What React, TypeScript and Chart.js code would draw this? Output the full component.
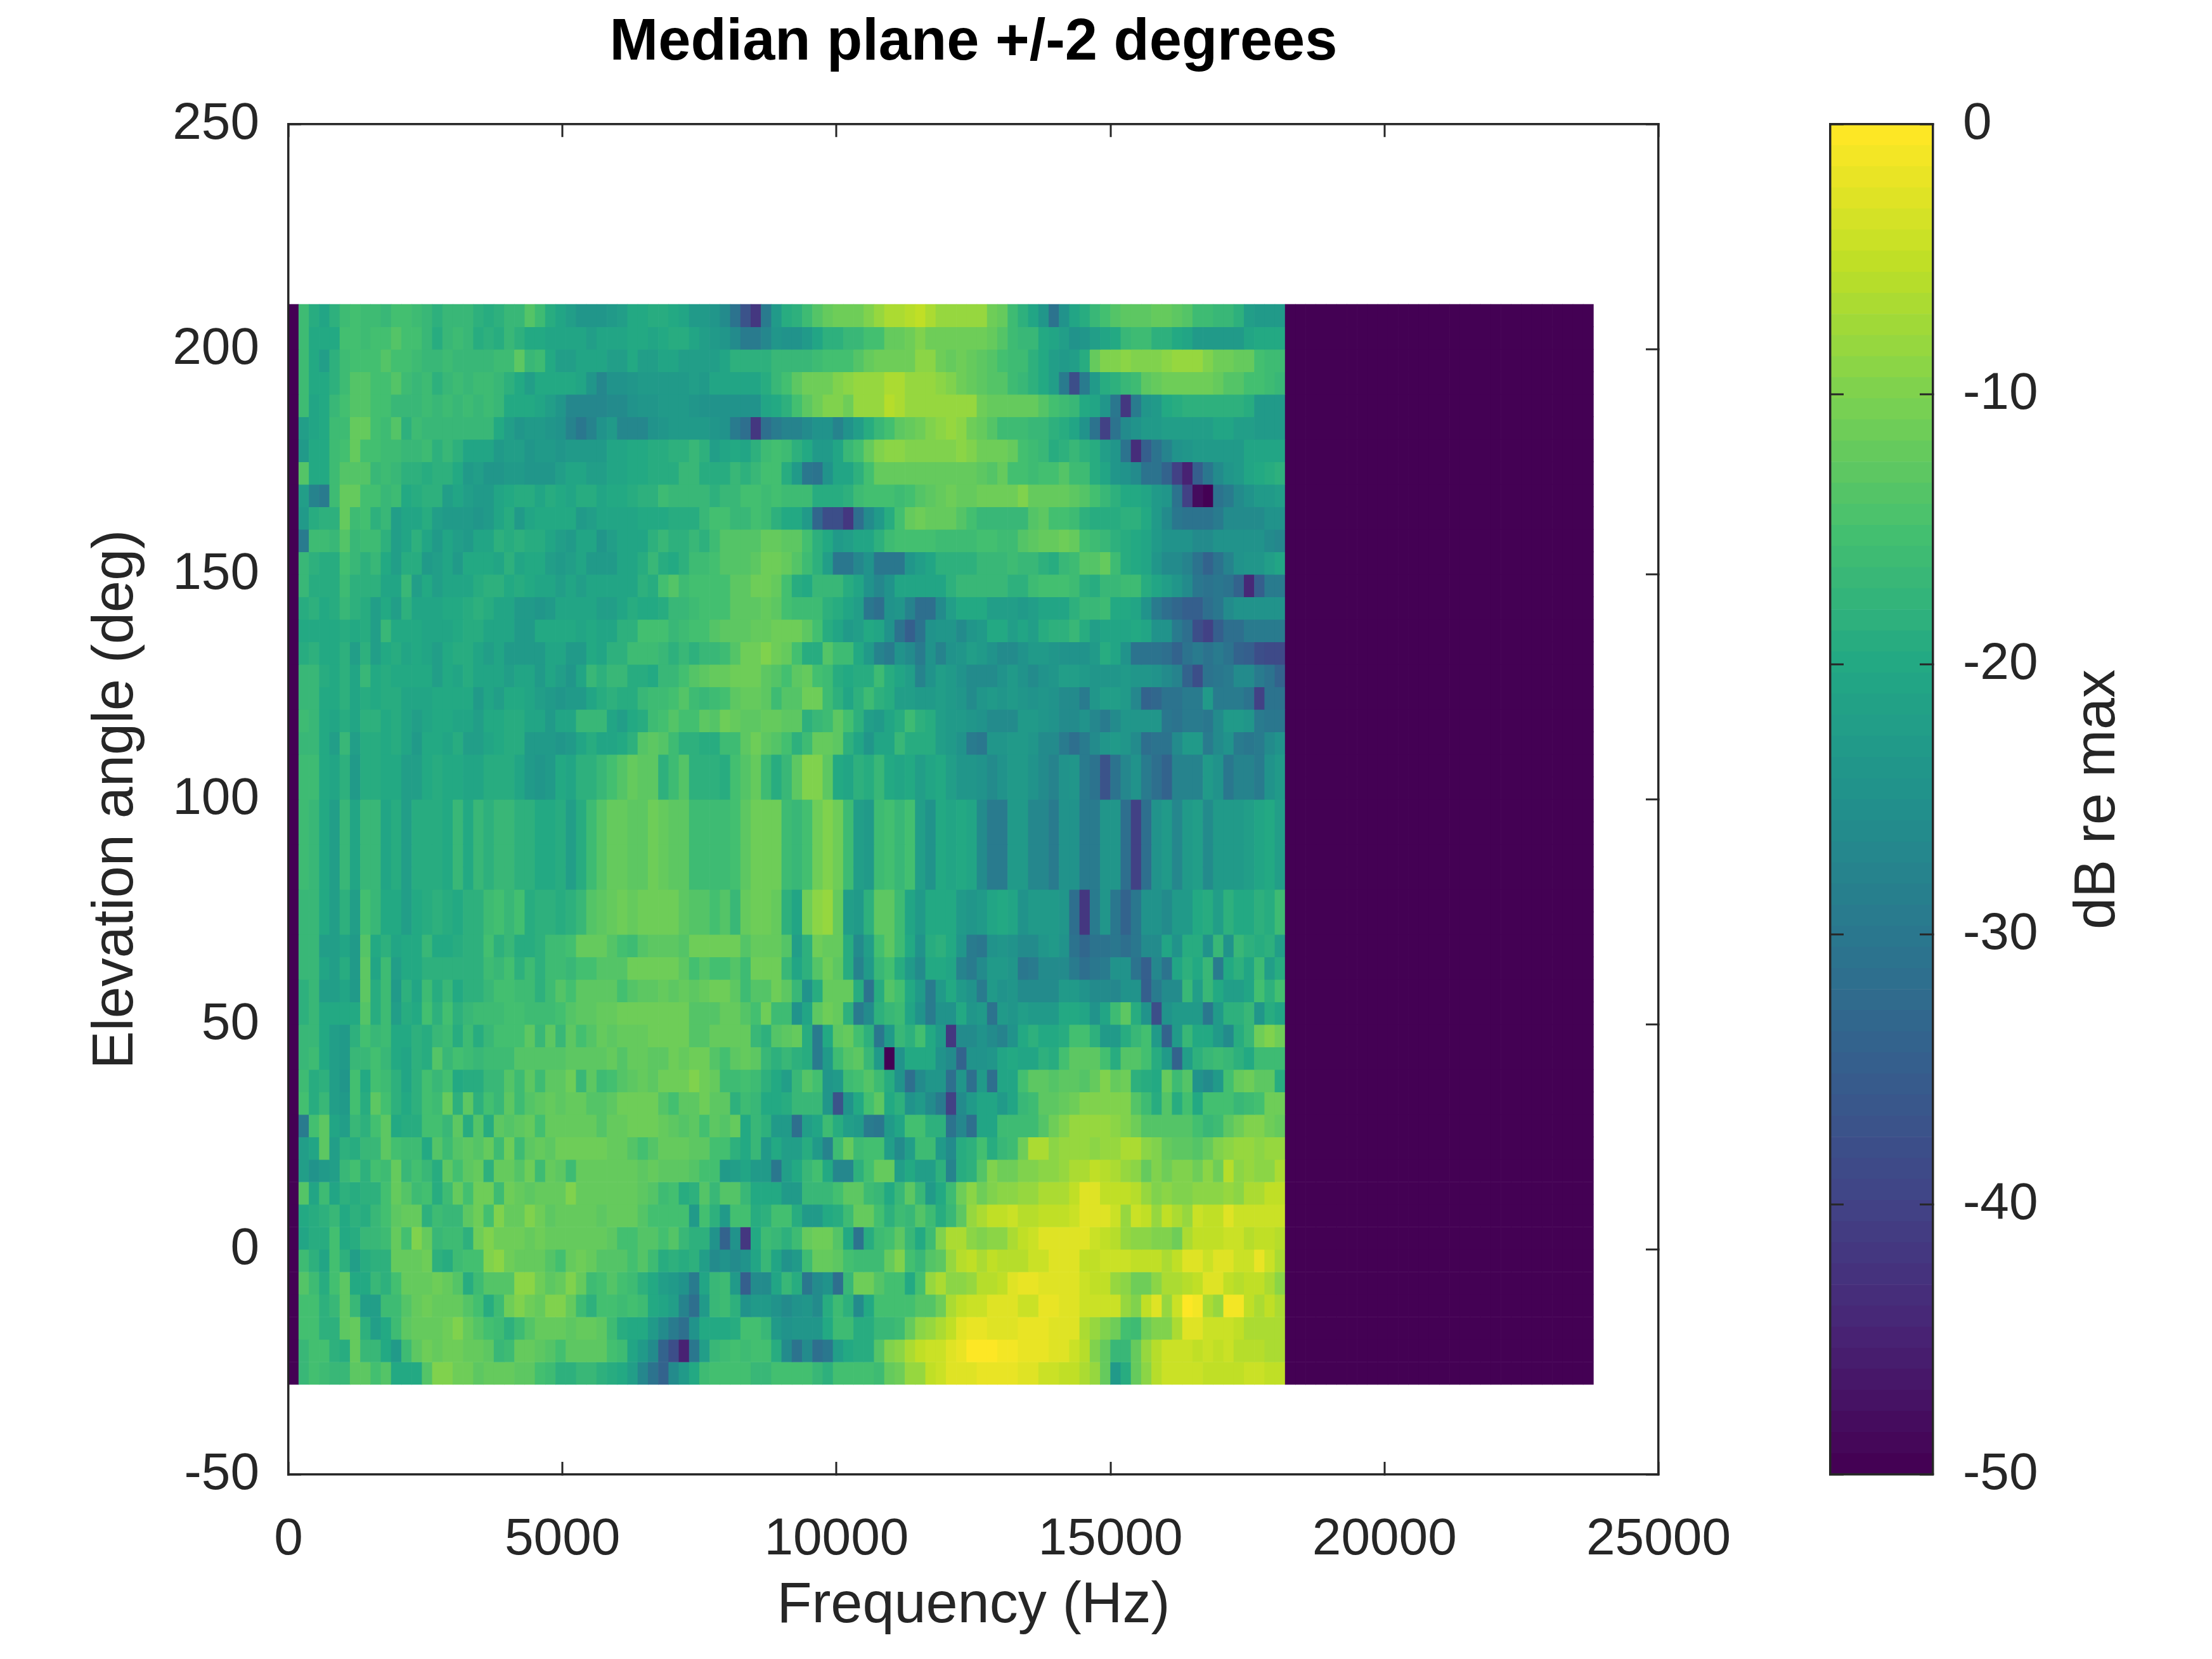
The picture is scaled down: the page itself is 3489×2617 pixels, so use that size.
import React, { useEffect, useRef } from "react";
import { Chart, registerables } from "chart.js";

Chart.register(...registerables);

// ---------------- text ----------------
const titleText = "Median plane +/-2 degrees";
const xAxisTitle = "Frequency (Hz)";
const yAxisTitle = "Elevation angle (deg)";
const colorbarTitle = "dB re max";

// ---------------- ticks ----------------
const xTicks = [0, 5000, 10000, 15000, 20000, 25000];
const yTicks = [-50, 0, 50, 100, 150, 200, 250];
const colorbarTicks = [-50, -40, -30, -20, -10, 0];

// ---------------- grid of the image ----------------
const binWidthHz = 187.5; // FFT bin spacing
const binCount = 127; // bins 0 .. 126 (0 .. 23812.5 Hz)
const firstMeasuredBin = 1; // bin 0 (DC) is at the floor
const floorDb = -50; // colour-axis minimum (dark region)
const ceilDb = 0;
const elevStepDeg = 5;
// lower edge of each image row, from top row to bottom row
const elevLowerEdges = [
  205, 200, 195, 190, 185, 180, 175, 170, 165, 160, 155, 150, 145, 140, 135, 130,
  125, 120, 115, 110, 105, 100, 95, 90, 85, 80, 75, 70, 65, 60, 55, 50,
  45, 40, 35, 30, 25, 20, 15, 10, 5, 0, -5, -10, -15, -20, -25, -30,
];

// ---------------- levels (dB re max), bins 1..96 (187.5 .. 18187.5 Hz) ----------------
const row205 = [-16,-19,-21,-18,-16,-15,-16,-16,-17,-15,-15,-16,-17,-18,-17,-17,-17,-18,-19,-18,-17,-17,-14,-16,-19,-21,-22,-24,-24,-24,-23,-22,
  -20,-20,-19,-19,-20,-21,-23,-23,-24,-26,-31,-37,-42,-29,-23,-19,-18,-16,-14,-12,-11,-11,-11,-10,-8,-7,-7,-6,-5,-7,-8,-8,
  -8,-8,-8,-11,-12,-16,-18,-21,-24,-31,-25,-21,-19,-17,-15,-14,-13,-13,-13,-12,-12,-13,-14,-16,-16,-17,-17,-18,-22,-23,-23,-23];
const row200 = [-16,-20,-20,-20,-15,-15,-16,-15,-15,-14,-15,-15,-17,-19,-17,-16,-17,-19,-18,-19,-17,-18,-20,-20,-21,-21,-21,-21,-22,-21,-21,-21,
  -20,-20,-21,-20,-19,-19,-21,-22,-23,-24,-26,-29,-29,-27,-24,-25,-25,-23,-21,-18,-18,-17,-17,-15,-15,-12,-12,-11,-10,-11,-11,-11,
  -11,-11,-11,-12,-14,-16,-17,-17,-20,-21,-22,-25,-24,-22,-21,-20,-17,-16,-16,-18,-18,-20,-21,-23,-23,-23,-23,-23,-21,-20,-20,-20];
const row195 = [-16,-20,-22,-18,-16,-15,-15,-15,-14,-15,-15,-16,-17,-17,-16,-17,-17,-17,-17,-16,-16,-13,-17,-16,-20,-22,-22,-21,-21,-21,-22,-22,
  -20,-22,-22,-21,-21,-22,-22,-22,-22,-21,-18,-18,-18,-18,-17,-17,-17,-17,-16,-15,-15,-15,-14,-12,-11,-11,-11,-11,-9,-9,-11,-12,
  -11,-12,-13,-14,-15,-16,-16,-18,-20,-22,-23,-22,-19,-12,-10,-10,-9,-10,-10,-10,-9,-8,-8,-8,-10,-11,-11,-12,-12,-15,-16,-16];
const row190 = [-16,-20,-20,-18,-16,-14,-14,-15,-15,-14,-16,-17,-16,-18,-17,-16,-17,-16,-16,-17,-18,-20,-22,-20,-20,-20,-20,-21,-24,-27,-25,-25,
  -24,-23,-23,-23,-23,-23,-22,-23,-21,-21,-21,-21,-21,-19,-17,-15,-13,-11,-11,-11,-10,-9,-8,-8,-8,-7,-7,-8,-8,-8,-9,-10,
  -11,-12,-13,-14,-14,-16,-17,-18,-20,-22,-29,-38,-29,-23,-19,-18,-17,-16,-13,-12,-11,-11,-11,-11,-11,-12,-14,-14,-15,-15,-16,-17];
const row185 = [-16,-21,-20,-17,-15,-14,-14,-15,-15,-17,-17,-17,-16,-17,-16,-17,-16,-17,-16,-17,-20,-20,-20,-21,-22,-24,-27,-27,-27,-27,-26,-26,
  -25,-24,-24,-23,-23,-23,-24,-25,-25,-25,-25,-25,-25,-21,-20,-18,-15,-13,-11,-10,-10,-11,-8,-8,-8,-6,-7,-8,-8,-8,-8,-8,
  -8,-8,-11,-12,-12,-12,-12,-12,-14,-15,-16,-17,-20,-21,-24,-30,-42,-29,-24,-23,-20,-19,-18,-18,-18,-18,-18,-18,-19,-23,-23,-23];
const row180 = [-22,-21,-20,-16,-16,-12,-12,-15,-16,-14,-18,-16,-17,-17,-17,-17,-17,-17,-17,-20,-22,-24,-23,-23,-24,-25,-28,-30,-28,-25,-23,-27,
  -27,-27,-25,-24,-23,-23,-23,-23,-24,-25,-29,-32,-42,-32,-29,-28,-28,-26,-25,-25,-28,-25,-22,-19,-17,-15,-13,-12,-11,-10,-9,-8,
  -9,-11,-12,-14,-16,-16,-16,-17,-17,-18,-19,-21,-25,-31,-40,-31,-26,-25,-23,-23,-22,-22,-22,-22,-22,-21,-21,-22,-22,-23,-23,-23];
const row175 = [-23,-20,-20,-16,-15,-12,-15,-15,-16,-16,-17,-17,-16,-18,-17,-18,-21,-21,-21,-23,-22,-22,-24,-23,-23,-24,-23,-23,-23,-23,-21,-21,
  -20,-20,-19,-19,-18,-18,-17,-18,-22,-21,-20,-21,-18,-16,-15,-16,-18,-20,-23,-23,-21,-17,-15,-12,-10,-9,-9,-10,-10,-10,-10,-10,
  -9,-10,-11,-11,-11,-12,-15,-16,-17,-19,-18,-17,-18,-19,-22,-24,-31,-43,-35,-31,-28,-25,-24,-23,-23,-23,-23,-23,-21,-21,-21,-21];
const row170 = [-14,-20,-20,-16,-14,-14,-14,-17,-16,-17,-18,-18,-19,-18,-18,-20,-23,-22,-24,-24,-23,-23,-24,-24,-24,-22,-21,-21,-22,-22,-21,-21,
  -20,-20,-19,-19,-19,-17,-17,-19,-19,-19,-17,-18,-17,-15,-15,-19,-23,-30,-31,-25,-21,-21,-18,-15,-12,-12,-12,-12,-12,-12,-12,-12,
  -12,-12,-13,-14,-12,-15,-15,-16,-15,-15,-14,-16,-16,-19,-21,-24,-25,-26,-31,-31,-34,-40,-45,-35,-30,-26,-24,-23,-21,-20,-19,-18];
const row165 = [-22,-28,-29,-16,-12,-12,-15,-15,-17,-16,-20,-19,-18,-18,-22,-21,-22,-23,-23,-21,-20,-19,-19,-21,-19,-20,-21,-19,-19,-21,-20,-20,
  -19,-18,-18,-16,-17,-17,-17,-17,-18,-17,-17,-15,-15,-16,-15,-16,-16,-16,-19,-19,-19,-18,-16,-15,-15,-15,-16,-15,-14,-13,-12,-11,
  -12,-12,-11,-11,-11,-11,-10,-12,-12,-12,-12,-13,-14,-15,-17,-18,-20,-20,-21,-23,-24,-31,-40,-48,-50,-31,-29,-26,-25,-23,-23,-22];
const row160 = [-23,-19,-18,-18,-12,-16,-15,-18,-17,-22,-21,-21,-19,-22,-23,-23,-23,-24,-23,-21,-19,-23,-21,-20,-20,-20,-20,-23,-22,-21,-21,-21,
  -21,-20,-20,-20,-19,-19,-19,-17,-15,-15,-17,-17,-15,-16,-18,-20,-20,-23,-33,-38,-38,-42,-32,-26,-23,-19,-15,-12,-11,-12,-12,-12,
  -14,-15,-17,-17,-17,-17,-17,-14,-13,-15,-15,-16,-18,-19,-19,-19,-18,-18,-20,-23,-26,-30,-31,-31,-31,-29,-26,-26,-26,-26,-25,-25];
const row155 = [-29,-16,-16,-17,-14,-17,-16,-16,-18,-22,-21,-18,-21,-23,-21,-22,-23,-21,-21,-18,-19,-18,-19,-19,-21,-22,-23,-21,-21,-24,-22,-21,
  -21,-21,-18,-17,-18,-18,-17,-18,-16,-14,-14,-14,-14,-12,-12,-13,-13,-15,-18,-20,-23,-22,-21,-21,-18,-16,-15,-15,-15,-15,-16,-16,
  -16,-16,-15,-15,-16,-16,-14,-13,-12,-12,-11,-12,-15,-16,-17,-18,-19,-20,-21,-23,-25,-25,-25,-26,-26,-25,-25,-25,-25,-25,-26,-27];
const row150 = [-17,-18,-19,-19,-15,-17,-18,-17,-20,-22,-19,-19,-23,-22,-21,-23,-20,-20,-20,-21,-18,-21,-20,-20,-22,-23,-22,-21,-23,-23,-23,-21,
  -21,-19,-17,-19,-20,-18,-16,-16,-15,-14,-14,-14,-13,-11,-11,-12,-14,-16,-18,-22,-30,-30,-27,-25,-30,-30,-30,-24,-22,-21,-18,-18,
  -18,-18,-17,-17,-17,-16,-17,-17,-18,-19,-17,-16,-14,-14,-12,-16,-19,-20,-21,-24,-26,-26,-28,-31,-34,-31,-28,-25,-24,-24,-22,-21];
const row145 = [-17,-19,-19,-19,-16,-18,-18,-18,-21,-21,-17,-22,-20,-22,-21,-21,-21,-19,-18,-18,-20,-19,-20,-21,-21,-22,-21,-22,-21,-21,-21,-21,
  -21,-18,-19,-15,-14,-16,-15,-15,-15,-15,-13,-13,-11,-11,-12,-15,-19,-20,-17,-17,-17,-19,-21,-25,-27,-25,-21,-21,-21,-21,-21,-18,
  -17,-17,-17,-17,-17,-18,-18,-16,-15,-15,-15,-16,-18,-19,-17,-17,-16,-16,-19,-21,-22,-24,-26,-30,-31,-30,-31,-34,-44,-35,-29,-29];
const row140 = [-19,-18,-20,-19,-17,-18,-19,-22,-20,-22,-18,-21,-21,-21,-20,-20,-19,-18,-19,-21,-21,-23,-23,-24,-23,-21,-21,-21,-21,-22,-22,-21,
  -19,-20,-20,-19,-17,-17,-16,-15,-15,-15,-13,-13,-13,-12,-13,-15,-16,-16,-16,-18,-19,-21,-22,-30,-32,-25,-24,-28,-32,-32,-26,-22,
  -20,-20,-20,-22,-22,-22,-23,-22,-21,-21,-21,-18,-17,-17,-16,-20,-20,-21,-25,-29,-32,-33,-35,-35,-32,-30,-26,-25,-25,-25,-25,-25];
const row135 = [-20,-20,-20,-20,-19,-20,-19,-22,-17,-20,-20,-20,-21,-21,-21,-20,-19,-19,-21,-21,-21,-23,-23,-20,-20,-20,-20,-21,-20,-21,-21,-18,
  -18,-15,-15,-15,-17,-16,-15,-15,-14,-13,-13,-13,-12,-12,-11,-11,-11,-13,-15,-19,-21,-23,-22,-20,-21,-25,-31,-35,-31,-25,-24,-24,
  -26,-24,-23,-20,-20,-22,-21,-22,-19,-18,-18,-17,-19,-22,-21,-21,-21,-20,-21,-25,-25,-29,-32,-38,-40,-35,-32,-32,-29,-29,-29,-29];
const row130 = [-19,-18,-20,-20,-18,-22,-18,-22,-20,-19,-21,-20,-21,-22,-20,-19,-19,-21,-22,-21,-23,-23,-23,-23,-21,-21,-23,-23,-20,-21,-18,-18,
  -16,-16,-16,-17,-18,-17,-18,-17,-17,-16,-14,-11,-11,-10,-11,-12,-15,-19,-19,-14,-16,-16,-20,-23,-28,-29,-25,-26,-29,-25,-28,-25,
  -24,-22,-23,-25,-26,-26,-25,-23,-23,-24,-25,-25,-25,-23,-19,-21,-25,-31,-31,-31,-32,-34,-31,-29,-31,-29,-31,-34,-35,-38,-39,-39];
const row125 = [-17,-17,-19,-20,-18,-21,-17,-20,-19,-20,-20,-20,-20,-22,-20,-21,-19,-21,-21,-21,-22,-21,-21,-23,-21,-22,-24,-21,-17,-18,-17,-17,
  -19,-19,-20,-17,-17,-15,-14,-13,-12,-12,-11,-11,-11,-13,-14,-15,-13,-12,-15,-16,-19,-20,-19,-19,-16,-19,-21,-22,-28,-25,-22,-23,
  -25,-26,-26,-26,-25,-23,-25,-26,-25,-24,-22,-22,-23,-24,-24,-24,-23,-24,-24,-25,-26,-28,-34,-38,-31,-30,-29,-26,-26,-29,-31,-34];
const row120 = [-17,-17,-20,-20,-18,-21,-19,-20,-19,-19,-21,-21,-21,-20,-20,-20,-20,-23,-21,-22,-20,-20,-21,-22,-23,-24,-23,-23,-21,-19,-18,-19,
  -19,-17,-16,-16,-15,-14,-16,-17,-16,-15,-13,-12,-12,-13,-16,-14,-14,-11,-11,-16,-18,-21,-18,-16,-18,-19,-22,-22,-23,-23,-22,-23,
  -24,-26,-24,-23,-24,-23,-24,-25,-24,-25,-26,-26,-29,-24,-22,-22,-23,-27,-34,-33,-31,-31,-29,-29,-23,-29,-29,-29,-31,-40,-31,-31];
const row115 = [-16,-17,-20,-21,-19,-21,-18,-18,-20,-19,-21,-22,-21,-20,-20,-21,-21,-22,-20,-20,-19,-19,-21,-21,-23,-21,-21,-17,-17,-17,-21,-22,
  -20,-19,-16,-15,-14,-15,-15,-13,-14,-11,-12,-13,-13,-12,-12,-13,-13,-18,-17,-16,-13,-15,-18,-22,-23,-21,-19,-16,-18,-19,-22,-23,
  -23,-24,-25,-26,-26,-26,-23,-23,-24,-25,-26,-26,-25,-27,-29,-26,-24,-24,-24,-24,-30,-31,-29,-29,-30,-26,-23,-23,-24,-29,-30,-30];
const row110 = [-17,-17,-20,-22,-17,-22,-19,-19,-20,-19,-21,-23,-20,-20,-21,-19,-22,-22,-21,-20,-19,-19,-23,-23,-23,-24,-23,-21,-19,-21,-21,-20,
  -18,-14,-13,-14,-16,-18,-18,-19,-19,-16,-16,-13,-11,-13,-14,-15,-18,-16,-12,-12,-13,-18,-21,-24,-21,-21,-17,-19,-19,-19,-22,-23,
  -25,-29,-30,-24,-24,-23,-23,-24,-26,-26,-29,-32,-29,-26,-24,-23,-24,-26,-32,-31,-31,-26,-23,-23,-29,-26,-25,-29,-30,-29,-26,-25];
const row105 = [-16,-16,-20,-21,-18,-23,-19,-19,-20,-20,-22,-22,-20,-19,-20,-20,-21,-21,-19,-19,-19,-21,-23,-24,-23,-20,-21,-18,-18,-17,-15,-14,
  -12,-13,-13,-18,-16,-14,-18,-18,-18,-19,-15,-14,-12,-16,-19,-17,-13,-10,-10,-13,-20,-21,-18,-19,-17,-20,-21,-20,-22,-21,-20,-22,
  -24,-24,-25,-26,-25,-23,-23,-25,-26,-28,-25,-24,-29,-31,-37,-31,-27,-25,-29,-32,-34,-28,-28,-28,-23,-25,-30,-28,-28,-29,-25,-23];
const row100 = [-16,-16,-20,-21,-18,-23,-19,-19,-20,-20,-22,-22,-20,-19,-20,-20,-21,-21,-19,-19,-19,-21,-23,-24,-23,-20,-21,-18,-18,-17,-15,-14,
  -12,-13,-13,-18,-16,-14,-18,-18,-18,-19,-15,-14,-12,-16,-19,-17,-13,-10,-10,-13,-20,-21,-18,-19,-17,-20,-21,-20,-22,-21,-20,-22,
  -24,-24,-25,-26,-25,-23,-23,-25,-26,-28,-25,-24,-29,-31,-37,-31,-27,-25,-29,-32,-34,-28,-28,-28,-23,-25,-30,-28,-28,-29,-25,-23];
const row95 = [-16,-17,-20,-22,-17,-21,-17,-17,-21,-19,-22,-19,-19,-19,-20,-17,-20,-17,-18,-17,-17,-18,-18,-20,-20,-19,-22,-19,-16,-14,-12,-12,
  -13,-13,-11,-12,-13,-13,-16,-16,-16,-16,-15,-13,-11,-11,-11,-16,-17,-15,-11,-10,-11,-16,-22,-23,-16,-15,-17,-15,-22,-25,-20,-21,
  -20,-21,-26,-29,-29,-23,-23,-27,-27,-29,-25,-25,-29,-29,-24,-24,-32,-40,-32,-25,-23,-27,-23,-22,-26,-23,-23,-23,-22,-21,-20,-22];
const row90 = [-16,-17,-20,-22,-17,-21,-17,-17,-21,-19,-22,-19,-19,-19,-20,-17,-20,-17,-18,-17,-17,-18,-18,-20,-20,-19,-22,-19,-16,-14,-12,-12,
  -13,-13,-11,-12,-13,-13,-16,-16,-16,-16,-15,-13,-11,-11,-11,-16,-17,-15,-11,-10,-11,-16,-22,-23,-16,-15,-17,-15,-22,-25,-20,-21,
  -20,-21,-26,-29,-29,-23,-23,-27,-27,-29,-25,-25,-29,-29,-24,-24,-32,-40,-32,-25,-23,-27,-23,-22,-26,-23,-23,-23,-22,-21,-20,-22];
const row85 = [-16,-17,-20,-22,-17,-21,-17,-17,-21,-19,-22,-19,-19,-19,-20,-17,-20,-17,-18,-17,-17,-18,-18,-20,-20,-19,-22,-19,-16,-14,-12,-12,
  -13,-13,-11,-12,-13,-13,-16,-16,-16,-16,-15,-13,-11,-11,-11,-16,-17,-15,-11,-10,-11,-16,-22,-23,-16,-15,-17,-15,-22,-25,-20,-21,
  -20,-21,-26,-29,-29,-23,-23,-27,-27,-29,-25,-25,-29,-29,-24,-24,-32,-40,-32,-25,-23,-27,-23,-22,-26,-23,-23,-23,-22,-21,-20,-22];
const row80 = [-16,-17,-20,-22,-17,-21,-17,-17,-21,-19,-22,-19,-19,-19,-20,-17,-20,-17,-18,-17,-17,-18,-18,-20,-20,-19,-22,-19,-16,-14,-12,-12,
  -13,-13,-11,-12,-13,-13,-16,-16,-16,-16,-15,-13,-11,-11,-11,-16,-17,-15,-11,-10,-11,-16,-22,-23,-16,-15,-17,-15,-22,-25,-20,-21,
  -20,-21,-26,-29,-29,-23,-23,-27,-27,-29,-25,-25,-29,-29,-24,-24,-32,-40,-32,-25,-23,-27,-23,-22,-26,-23,-23,-23,-22,-21,-20,-22];
const row75 = [-17,-17,-20,-22,-18,-22,-15,-17,-20,-20,-22,-20,-19,-18,-19,-20,-18,-18,-16,-15,-17,-15,-19,-18,-18,-19,-18,-17,-14,-13,-12,-11,
  -12,-11,-11,-11,-11,-13,-14,-14,-15,-14,-17,-12,-11,-11,-12,-18,-21,-11,-9,-8,-12,-22,-23,-18,-13,-13,-16,-21,-23,-20,-20,-20,
  -23,-24,-23,-21,-20,-21,-25,-23,-23,-23,-24,-32,-42,-29,-24,-30,-34,-30,-25,-25,-26,-23,-23,-20,-19,-22,-18,-20,-20,-18,-19,-16];
const row70 = [-17,-17,-20,-22,-18,-22,-15,-17,-20,-20,-22,-20,-19,-18,-19,-20,-18,-18,-16,-15,-17,-15,-19,-18,-18,-19,-18,-17,-14,-13,-12,-11,
  -12,-11,-11,-11,-11,-13,-14,-14,-15,-14,-17,-12,-11,-11,-12,-18,-21,-11,-9,-8,-12,-22,-23,-18,-13,-13,-16,-21,-23,-20,-20,-20,
  -23,-24,-23,-21,-20,-21,-25,-23,-23,-23,-24,-32,-42,-29,-24,-30,-34,-30,-25,-25,-26,-23,-23,-20,-19,-22,-18,-20,-20,-18,-19,-16];
const row65 = [-17,-17,-22,-22,-21,-23,-14,-20,-18,-21,-20,-20,-17,-20,-20,-19,-18,-18,-15,-18,-17,-19,-19,-18,-16,-16,-15,-12,-12,-12,-14,-15,
  -16,-14,-13,-13,-13,-14,-11,-11,-11,-11,-11,-14,-12,-12,-12,-14,-22,-18,-11,-12,-12,-19,-26,-22,-15,-13,-16,-20,-25,-19,-18,-20,
  -24,-29,-30,-25,-24,-25,-26,-26,-24,-23,-25,-31,-33,-31,-31,-30,-32,-30,-26,-26,-21,-25,-19,-19,-25,-17,-25,-17,-18,-19,-18,-22];
const row60 = [-17,-17,-21,-22,-19,-23,-13,-21,-16,-22,-20,-20,-18,-18,-18,-18,-18,-18,-16,-17,-15,-18,-16,-18,-16,-16,-17,-15,-15,-14,-14,-14,
  -11,-11,-11,-11,-11,-13,-15,-14,-15,-15,-14,-16,-11,-11,-11,-17,-21,-18,-14,-11,-13,-19,-28,-23,-17,-15,-19,-23,-26,-20,-20,-21,
  -28,-29,-26,-23,-23,-24,-30,-29,-26,-26,-26,-29,-32,-30,-29,-25,-25,-31,-35,-27,-31,-21,-18,-20,-17,-29,-20,-18,-21,-16,-22,-19];
const row55 = [-18,-17,-22,-22,-21,-23,-13,-19,-16,-23,-18,-21,-16,-19,-17,-20,-18,-18,-17,-15,-15,-16,-16,-18,-16,-14,-15,-13,-13,-13,-13,-15,
  -14,-13,-13,-12,-13,-12,-13,-12,-11,-11,-13,-16,-14,-14,-11,-13,-17,-25,-19,-12,-12,-12,-19,-31,-19,-14,-15,-20,-23,-29,-23,-20,
  -23,-25,-29,-23,-25,-24,-26,-26,-26,-26,-23,-23,-25,-26,-26,-27,-25,-25,-35,-29,-26,-26,-17,-22,-17,-20,-22,-22,-21,-15,-18,-15];
const row50 = [-18,-17,-20,-20,-20,-20,-14,-19,-16,-22,-19,-20,-15,-18,-15,-18,-17,-16,-16,-16,-15,-15,-16,-16,-16,-15,-14,-13,-13,-12,-12,-11,
  -11,-11,-11,-11,-11,-11,-14,-14,-14,-12,-12,-14,-15,-11,-16,-16,-25,-21,-13,-11,-12,-18,-29,-26,-18,-17,-16,-21,-25,-29,-25,-25,
  -20,-24,-23,-31,-23,-24,-22,-23,-23,-23,-20,-20,-21,-25,-21,-16,-13,-19,-25,-38,-25,-23,-23,-23,-30,-23,-18,-18,-17,-24,-19,-21];
const row45 = [-17,-17,-20,-22,-23,-18,-15,-17,-16,-20,-20,-18,-19,-17,-16,-19,-16,-19,-17,-15,-15,-15,-13,-17,-13,-17,-13,-15,-14,-12,-13,-12,
  -12,-12,-11,-11,-11,-11,-14,-14,-12,-12,-12,-12,-17,-18,-14,-13,-12,-19,-29,-20,-13,-12,-15,-18,-30,-23,-17,-18,-15,-20,-23,-42,
  -26,-26,-25,-26,-28,-25,-20,-18,-20,-20,-19,-15,-15,-18,-23,-23,-19,-17,-15,-23,-34,-23,-17,-20,-20,-23,-26,-19,-17,-11,-10,-11];
const row40 = [-17,-16,-20,-22,-23,-17,-17,-15,-17,-20,-21,-18,-19,-14,-17,-15,-16,-17,-16,-16,-16,-14,-14,-14,-14,-14,-13,-13,-13,-13,-12,-14,
  -12,-12,-13,-13,-11,-12,-11,-11,-14,-15,-13,-12,-13,-17,-18,-17,-18,-19,-29,-23,-16,-14,-13,-17,-23,-50,-25,-20,-20,-20,-25,-26,
  -34,-25,-25,-24,-21,-20,-21,-21,-18,-19,-15,-13,-13,-13,-15,-19,-14,-14,-15,-19,-23,-34,-22,-18,-17,-16,-17,-18,-20,-16,-16,-16];
const row35 = [-16,-19,-18,-22,-24,-15,-20,-15,-16,-18,-21,-18,-15,-17,-15,-20,-19,-19,-17,-17,-14,-16,-13,-16,-13,-13,-11,-17,-13,-16,-15,-14,
  -13,-12,-13,-11,-11,-11,-10,-11,-12,-16,-16,-15,-16,-18,-20,-22,-17,-14,-15,-24,-23,-16,-15,-14,-16,-19,-25,-32,-26,-24,-24,-32,
  -24,-32,-23,-32,-21,-21,-15,-13,-13,-14,-13,-13,-14,-12,-10,-12,-11,-18,-19,-20,-12,-16,-14,-25,-26,-23,-15,-12,-11,-13,-13,-19];
const row30 = [-15,-19,-17,-22,-23,-15,-19,-13,-15,-18,-20,-18,-15,-16,-12,-18,-13,-18,-15,-17,-13,-16,-14,-13,-12,-13,-12,-12,-14,-14,-13,-11,
  -11,-11,-11,-14,-15,-13,-13,-11,-13,-13,-18,-16,-17,-20,-20,-19,-17,-17,-17,-24,-37,-25,-20,-15,-13,-20,-18,-25,-23,-26,-29,-40,
  -26,-23,-21,-21,-23,-21,-17,-16,-13,-13,-12,-11,-10,-10,-10,-10,-10,-14,-16,-19,-14,-19,-15,-20,-15,-15,-15,-17,-16,-15,-11,-11];
const row25 = [-29,-15,-13,-21,-22,-17,-18,-15,-13,-20,-19,-19,-15,-15,-17,-13,-19,-14,-19,-13,-14,-13,-12,-15,-12,-12,-12,-12,-12,-14,-12,-12,
  -11,-11,-11,-12,-13,-14,-13,-15,-13,-14,-12,-20,-17,-18,-23,-23,-32,-22,-21,-16,-19,-22,-23,-29,-30,-23,-21,-15,-15,-18,-18,-31,
  -27,-32,-21,-21,-16,-16,-16,-16,-14,-11,-10,-8,-8,-8,-8,-9,-10,-11,-14,-14,-14,-14,-14,-15,-17,-16,-13,-11,-10,-10,-11,-12];
const row20 = [-22,-21,-13,-22,-18,-19,-17,-17,-13,-15,-16,-16,-20,-14,-16,-14,-13,-14,-12,-16,-11,-16,-13,-12,-13,-11,-11,-11,-11,-11,-12,-12,
  -14,-15,-14,-12,-12,-12,-13,-13,-15,-15,-18,-20,-17,-23,-20,-22,-22,-19,-23,-28,-16,-12,-16,-15,-15,-22,-26,-22,-16,-16,-23,-26,
  -19,-18,-15,-19,-17,-16,-11,-7,-7,-9,-8,-8,-8,-9,-8,-8,-7,-7,-9,-10,-12,-13,-13,-14,-12,-10,-9,-8,-8,-9,-8,-8];
const row15 = [-22,-25,-23,-22,-17,-15,-18,-15,-16,-12,-17,-15,-17,-19,-13,-15,-13,-12,-18,-12,-12,-14,-11,-16,-12,-13,-16,-12,-12,-12,-12,-12,
  -12,-13,-12,-13,-13,-13,-14,-15,-15,-23,-22,-21,-23,-23,-30,-22,-20,-17,-15,-20,-27,-27,-18,-15,-12,-12,-22,-20,-22,-22,-18,-28,
  -19,-18,-14,-10,-11,-11,-10,-10,-9,-9,-8,-7,-7,-5,-6,-7,-8,-9,-12,-10,-11,-10,-10,-11,-9,-11,-6,-9,-8,-9,-9,-7];
const row10 = [-14,-21,-16,-21,-18,-19,-18,-18,-15,-12,-14,-16,-15,-19,-16,-12,-15,-11,-11,-16,-11,-12,-13,-12,-12,-12,-10,-12,-12,-12,-12,-12,
  -12,-13,-14,-16,-15,-19,-18,-14,-17,-14,-14,-17,-20,-20,-20,-23,-23,-17,-17,-17,-15,-13,-13,-16,-17,-20,-17,-13,-17,-23,-20,-16,
  -11,-9,-11,-10,-9,-9,-8,-8,-7,-7,-7,-5,-3,-3,-5,-5,-5,-6,-8,-10,-9,-10,-10,-9,-9,-9,-8,-9,-7,-7,-5,-5];
const row5 = [-20,-19,-18,-17,-20,-18,-19,-17,-15,-13,-12,-12,-18,-16,-17,-17,-13,-11,-15,-10,-12,-12,-10,-11,-13,-12,-12,-12,-12,-13,-12,-12,
  -12,-14,-15,-15,-15,-15,-23,-15,-18,-23,-15,-15,-19,-18,-15,-15,-19,-23,-23,-20,-19,-16,-12,-12,-15,-18,-16,-17,-14,-16,-19,-17,
  -13,-8,-7,-5,-5,-4,-6,-6,-5,-5,-5,-4,-3,-3,-3,-4,-8,-4,-5,-8,-5,-7,-8,-4,-5,-5,-3,-4,-4,-4,-4,-4];
const row0 = [-21,-19,-19,-15,-20,-19,-17,-17,-16,-12,-15,-10,-12,-17,-16,-16,-18,-11,-10,-11,-11,-11,-12,-11,-12,-12,-12,-12,-12,-12,-13,-15,
  -15,-14,-14,-15,-14,-17,-18,-18,-25,-34,-25,-42,-20,-16,-17,-18,-16,-12,-11,-11,-14,-20,-31,-19,-16,-15,-13,-17,-20,-16,-10,-7,
  -7,-9,-10,-9,-9,-7,-5,-4,-3,-3,-3,-3,-3,-4,-5,-6,-8,-9,-9,-10,-10,-11,-7,-5,-5,-5,-4,-4,-6,-5,-5,-6];
const rowM5 = [-16,-18,-21,-15,-18,-22,-19,-18,-18,-12,-12,-12,-11,-18,-19,-16,-15,-15,-10,-9,-11,-12,-12,-12,-14,-15,-12,-11,-12,-14,-14,-14,
  -15,-14,-16,-19,-18,-19,-18,-22,-26,-25,-26,-25,-21,-17,-21,-25,-23,-16,-12,-12,-13,-15,-16,-16,-16,-12,-10,-15,-17,-14,-13,-8,
  -6,-5,-7,-5,-6,-6,-6,-4,-4,-3,-3,-3,-5,-5,-4,-4,-4,-5,-5,-5,-7,-5,-3,-3,-4,-3,-3,-4,-4,-2,-4,-7];
const rowM10 = [-14,-16,-19,-15,-13,-20,-20,-17,-18,-15,-12,-12,-12,-11,-12,-14,-19,-16,-14,-14,-14,-9,-9,-11,-13,-12,-10,-12,-16,-15,-14,-15,
  -16,-18,-20,-22,-23,-25,-29,-21,-17,-16,-23,-35,-26,-26,-21,-17,-19,-30,-26,-25,-32,-17,-11,-11,-14,-15,-15,-20,-15,-8,-7,-9,
  -9,-8,-6,-6,-5,-3,-2,-2,-3,-3,-3,-3,-4,-5,-5,-8,-9,-11,-11,-9,-7,-7,-6,-5,-3,-3,-5,-6,-5,-5,-7,-9];
const rowM15 = [-15,-15,-18,-17,-13,-17,-22,-22,-16,-16,-14,-12,-11,-12,-12,-12,-14,-15,-19,-16,-11,-10,-11,-12,-10,-10,-12,-16,-18,-15,-15,-16,
  -15,-16,-20,-21,-22,-28,-32,-23,-17,-16,-18,-25,-23,-23,-25,-26,-25,-24,-26,-19,-16,-18,-26,-20,-15,-15,-15,-15,-14,-14,-11,-7,
  -5,-4,-4,-3,-3,-3,-4,-4,-2,-2,-3,-3,-4,-4,-4,-4,-8,-10,-5,-3,-8,-4,0,-1,-7,-8,-1,-1,-5,-7,-5,-7];
const rowM20 = [-15,-15,-18,-18,-13,-12,-18,-22,-20,-16,-13,-12,-12,-12,-11,-10,-12,-14,-15,-16,-18,-16,-14,-12,-12,-12,-13,-12,-12,-13,-16,-19,
  -20,-20,-23,-26,-29,-32,-25,-20,-20,-20,-19,-15,-15,-17,-23,-25,-24,-24,-24,-20,-16,-16,-19,-19,-17,-17,-16,-12,-9,-8,-7,-5,
  -3,-2,-2,-3,-3,-3,-2,-2,-2,-3,-3,-3,-7,-8,-10,-11,-15,-16,-11,-10,-10,-7,-3,-3,-4,-4,-4,-5,-7,-7,-7,-7];
const rowM25 = [-17,-15,-15,-18,-19,-12,-17,-17,-20,-23,-16,-13,-11,-12,-11,-11,-12,-12,-13,-17,-16,-12,-12,-13,-14,-15,-13,-13,-13,-13,-15,-16,
  -21,-23,-26,-34,-38,-45,-30,-22,-17,-16,-15,-16,-15,-15,-19,-26,-31,-26,-32,-30,-22,-20,-19,-19,-14,-10,-9,-7,-5,-4,-4,-3,
  -2,0,0,0,-1,-1.5,-2,-2,-2,-2.5,-2.5,-4,-6,-10,-12,-17,-17,-12,-8,-6,-4,-4,-4,-5,-4,-5,-4,-6,-6,-6,-7,-7];
const rowM30 = [-17,-15,-16,-17,-17,-13,-13,-15,-14,-20,-20,-20,-14,-10,-10,-11,-11,-13,-12,-12,-12,-13,-13,-15,-16,-18,-18,-17,-17,-18,-19,-20,
  -22,-27,-31,-34,-26,-23,-20,-16,-15,-15,-15,-15,-17,-17,-15,-15,-15,-15,-17,-18,-15,-15,-15,-15,-16,-12,-11,-8,-8,-5,-4,-3,
  -3,-2.5,-2,-2,-2,-2,-3,-3,-4,-4,-5,-5,-7,-8,-12,-23,-19,-12,-9,-6,-4,-4,-4,-4,-5,-5,-5,-5,-4,-4,-5,-5];

const rowsTopDown = [
  row205, row200, row195, row190, row185, row180, row175, row170, row165, row160, row155, row150, row145, row140, row135, row130,
  row125, row120, row115, row110, row105, row100, row95, row90, row85, row80, row75, row70, row65, row60, row55, row50,
  row45, row40, row35, row30, row25, row20, row15, row10, row5, row0, rowM5, rowM10, rowM15, rowM20, rowM25, rowM30,
];

// ---------------- styling ----------------
const FONT = "'Liberation Sans', Arial, Helvetica, sans-serif";
const TEXT = "#262626";
const AXIS = "#262626";
const CANVAS_H = 2617;
const MAIN_W = 2800; // plot area right edge at 2616, room for the last tick label
const CB_LEFT = 2800;
const CB_W = 689;

const viridisStops = [
  [68, 1, 84], [72, 36, 117], [65, 68, 135], [53, 95, 141], [42, 120, 142], [33, 145, 140],
  [34, 168, 132], [68, 191, 112], [122, 209, 81], [189, 223, 38], [253, 231, 37],
];
function viridis(t: number) {
  const x = Math.min(1, Math.max(0, t)) * 10;
  const i = Math.min(9, Math.floor(x));
  const f = x - i;
  const a = viridisStops[i];
  const b = viridisStops[i + 1];
  const c = [0, 1, 2].map((k) => Math.round(a[k] + (b[k] - a[k]) * f));
  return `rgb(${c[0]},${c[1]},${c[2]})`;
}
const colormapSize = 64;
function colorIndex(v: number) {
  return Math.max(0, Math.min(colormapSize - 1, Math.floor(((v - floorDb) / (ceilDb - floorDb)) * colormapSize)));
}
function colorForDb(v: number) {
  return viridis(colorIndex(v) / (colormapSize - 1));
}

function fullRow(vals: number[]) {
  const out: number[] = [];
  for (let k = 0; k < binCount; k++) {
    const j = k - firstMeasuredBin;
    out.push(j >= 0 && j < vals.length ? vals[j] : floorDb);
  }
  return out;
}

const tickFont = { family: FONT, size: 82, lineHeight: 1.2 };
const labelFont = { family: FONT, size: 90, lineHeight: 1.2 };

function axisBase(tickLength: number, gridZ: number) {
  return {
    offset: false,
    border: { display: true, color: AXIS, width: 3.5, z: 1 },
    grid: {
      display: true,
      drawOnChartArea: false,
      drawTicks: true,
      lineWidth: 0,
      tickLength,
      tickWidth: 3,
      tickColor: AXIS,
      offset: false,
      z: gridZ,
    },
  };
}

function fixSize(dim: "width" | "height", size: number) {
  return (s: any) => {
    s[dim] = size;
    s.paddingLeft = 0;
    s.paddingRight = 0;
    s.paddingTop = 0;
    s.paddingBottom = 0;
  };
}

export default function App() {
  const mainRef = useRef<HTMLCanvasElement | null>(null);
  const cbRef = useRef<HTMLCanvasElement | null>(null);

  useEffect(() => {
    if (!mainRef.current || !cbRef.current) return;

    // ---------- heat map ----------
    const datasets = rowsTopDown.map((vals, i) => {
      const lo = elevLowerEdges[i];
      const levels = fullRow(vals);
      return {
        type: "bar",
        data: levels.map((_, k) => ({ x: (k + 0.5) * binWidthHz, y: [lo, lo + elevStepDeg] })),
        backgroundColor: levels.map(colorForDb),
        borderWidth: 0,
      };
    });

    const setTicks = (list: number[]) => (scale: any) => {
      scale.ticks = list.map((v) => ({ value: v }));
    };

    const main = new Chart(mainRef.current, {
      type: "bar",
      data: { datasets } as any,
      options: {
        animation: false,
        responsive: false,
        devicePixelRatio: 1,
        events: [],
        layout: { autoPadding: false, padding: 0 },
        datasets: {
          bar: { grouped: false, barPercentage: 1, categoryPercentage: 1, borderWidth: 0 },
        },
        plugins: {
          legend: { display: false },
          tooltip: { enabled: false },
          title: {
            display: true,
            text: titleText,
            position: "top",
            align: "center",
            fullSize: false,
            color: "#000000",
            font: { family: FONT, size: 92, weight: "bold", lineHeight: 1.2 },
            padding: { top: 13, bottom: 0 },
          },
        },
        scales: {
          x: {
            type: "linear",
            position: "bottom",
            min: xTicks[0],
            max: xTicks[xTicks.length - 1],
            ...axisBase(-20, -1),
            afterBuildTicks: setTicks(xTicks),
            ticks: {
              autoSkip: false,
              maxRotation: 0,
              font: tickFont,
              color: TEXT,
              padding: 74,
              callback: (v: any) => String(v),
            },
            title: {
              display: true,
              text: xAxisTitle,
              color: TEXT,
              font: labelFont,
              padding: { top: 0, bottom: 29 },
            },
            afterFit: fixSize("height", 291),
          },
          xTop: {
            type: "linear",
            position: "top",
            min: xTicks[0],
            max: xTicks[xTicks.length - 1],
            ...axisBase(-20, -1),
            afterBuildTicks: setTicks(xTicks),
            ticks: { display: false },
            afterFit: fixSize("height", 72.8),
          },
          y: {
            type: "linear",
            position: "left",
            min: yTicks[0],
            max: yTicks[yTicks.length - 1],
            ...axisBase(-20, -1),
            afterBuildTicks: setTicks(yTicks),
            ticks: {
              autoSkip: false,
              font: tickFont,
              color: TEXT,
              padding: 66,
              callback: (v: any) => String(v),
            },
            title: {
              display: true,
              text: yAxisTitle,
              color: TEXT,
              font: labelFont,
              padding: { top: 130, bottom: 0 },
            },
            afterFit: fixSize("width", 455),
          },
          yRight: {
            type: "linear",
            position: "right",
            min: yTicks[0],
            max: yTicks[yTicks.length - 1],
            ...axisBase(-20, -1),
            afterBuildTicks: setTicks(yTicks),
            ticks: { display: false },
            afterFit: fixSize("width", MAIN_W - 2616),
          },
        },
      } as any,
    });

    // ---------- colour bar ----------
    const stepDb = (ceilDb - floorDb) / colormapSize;
    const cbDatasets = Array.from({ length: colormapSize }, (_, i) => ({
      data: [[floorDb + i * stepDb, floorDb + (i + 1) * stepDb]],
      backgroundColor: viridis(i / (colormapSize - 1)),
      borderWidth: 0,
    }));

    const cbLabelPlugin = {
      id: "colorbarLabel",
      afterDraw(chart: any) {
        const { ctx, chartArea } = chart;
        ctx.save();
        ctx.translate(chartArea.right + 261, (chartArea.top + chartArea.bottom) / 2);
        ctx.rotate(-Math.PI / 2);
        ctx.font = `${labelFont.size}px ${FONT}`;
        ctx.fillStyle = TEXT;
        ctx.textAlign = "center";
        ctx.textBaseline = "middle";
        ctx.fillText(colorbarTitle, 0, 0);
        ctx.restore();
      },
    };

    const cbAxisX = (position: string, h: number) => ({
      type: "category",
      position,
      offset: true,
      grid: { display: false },
      border: { display: true, color: AXIS, width: 3.5, z: 1 },
      ticks: { display: false },
      afterFit: fixSize("height", h),
    });

    const cb = new Chart(cbRef.current, {
      type: "bar",
      data: { labels: [""], datasets: cbDatasets } as any,
      options: {
        animation: false,
        responsive: false,
        devicePixelRatio: 1,
        events: [],
        layout: { autoPadding: false, padding: 0 },
        datasets: {
          bar: { grouped: false, barPercentage: 1, categoryPercentage: 1, borderWidth: 0 },
        },
        plugins: { legend: { display: false }, tooltip: { enabled: false }, title: { display: false } },
        scales: {
          x: cbAxisX("bottom", 291),
          xTop: cbAxisX("top", 196),
          y: {
            type: "linear",
            position: "right",
            min: floorDb,
            max: ceilDb,
            ...axisBase(-21, 1),
            afterBuildTicks: setTicks(colorbarTicks),
            ticks: {
              autoSkip: false,
              font: tickFont,
              color: TEXT,
              padding: 68,
              callback: (v: any) => String(v),
            },
            afterFit: fixSize("width", 440),
          },
          yLeft: {
            type: "linear",
            position: "left",
            min: floorDb,
            max: ceilDb,
            ...axisBase(-21, 1),
            afterBuildTicks: setTicks(colorbarTicks),
            ticks: { display: false },
            afterFit: fixSize("width", 2887 - CB_LEFT),
          },
        },
      } as any,
      plugins: [cbLabelPlugin],
    });

    return () => {
      main.destroy();
      cb.destroy();
    };
  }, []);

  return (
    <div
      style={{
        position: "absolute",
        left: 0,
        top: 0,
        width: CB_LEFT + CB_W,
        height: CANVAS_H,
        background: "#ffffff",
        overflow: "hidden",
      }}
    >
      <canvas
        ref={mainRef}
        width={MAIN_W}
        height={CANVAS_H}
        style={{ position: "absolute", left: 0, top: 0, width: MAIN_W, height: CANVAS_H }}
      />
      <canvas
        ref={cbRef}
        width={CB_W}
        height={CANVAS_H}
        style={{ position: "absolute", left: CB_LEFT, top: 0, width: CB_W, height: CANVAS_H }}
      />
    </div>
  );
}
